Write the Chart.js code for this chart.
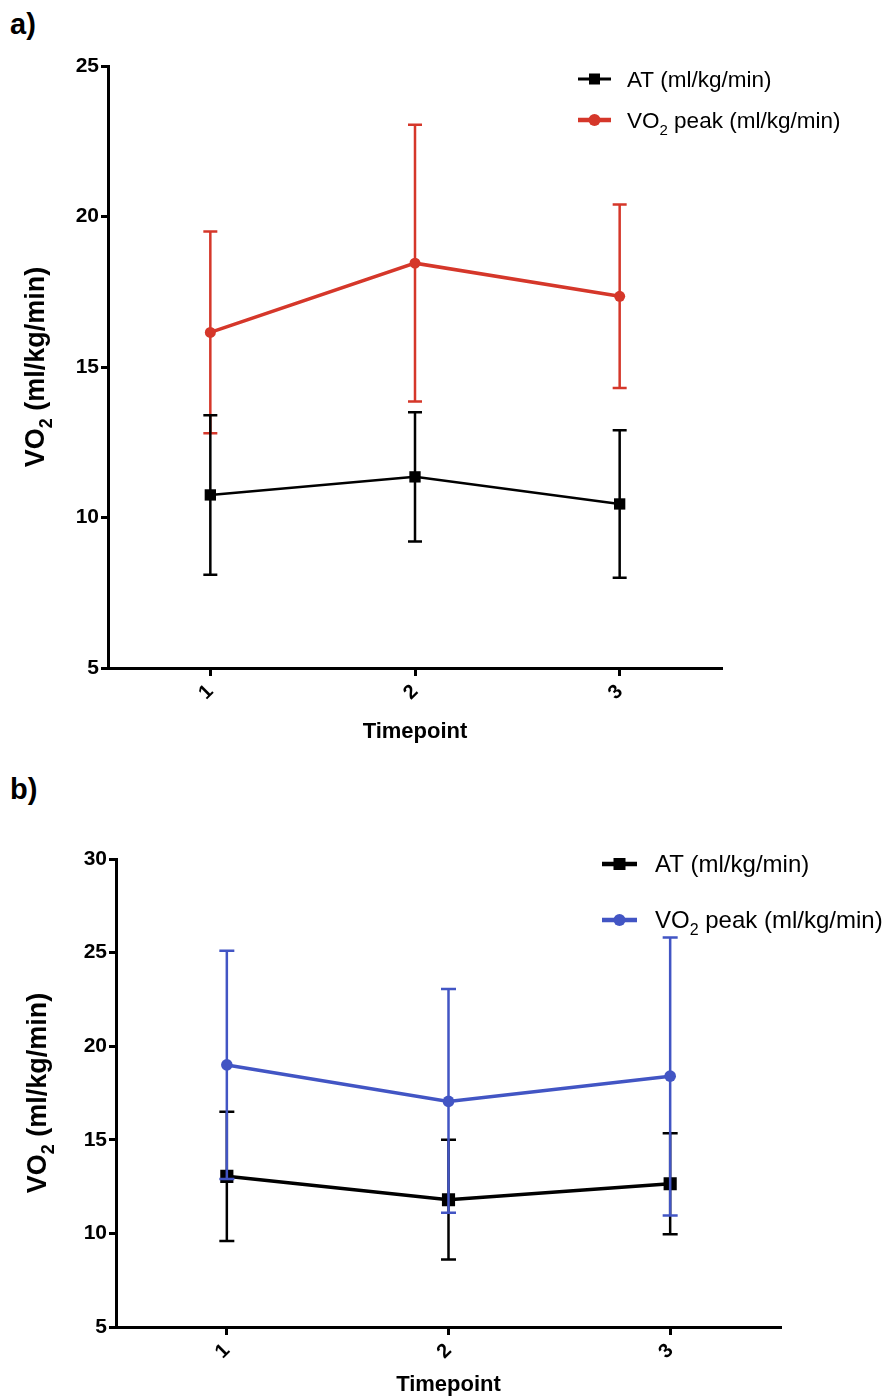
<!DOCTYPE html>
<html>
<head>
<meta charset="utf-8">
<script src="https://cdn.jsdelivr.net/npm/chart.js@4.4.1/dist/chart.umd.min.js"></script>
<style>
  html, body { margin: 0; padding: 0; background: #ffffff; }
  body { width: 892px; height: 1398px; position: relative; overflow: hidden; font-family: 'Liberation Sans', Arial, sans-serif; }
  .panel-label { position: absolute; left: 10px; font-weight: bold; font-size: 29px; color: #000; line-height: 1; }
  .wrap { position: absolute; left: 0; width: 892px; }
</style>
</head>
<body>
<div class="panel-label" style="top:10px;">a)</div>
<div class="panel-label" style="top:775px;">b)</div>
<div class="wrap" style="top:0px;height:760px;"><canvas id="chartA" width="892" height="760"></canvas></div>
<div class="wrap" style="top:760px;height:638px;"><canvas id="chartB" width="892" height="638"></canvas></div>
<script>
// ---------- DATA ----------
const categories = ['1', '2', '3'];
const seriesNames = ['AT (ml/kg/min)', 'VO₂ peak (ml/kg/min)'];
const yAxisTitle = 'VO₂ (ml/kg/min)';
const xAxisTitle = 'Timepoint';

// Panel a
const atA = [10.75, 11.35, 10.45];
const atAUpper = [13.4, 13.5, 12.9];
const atALower = [8.1, 9.2, 8.0];
const vo2A = [16.15, 18.45, 17.35];
const vo2AUpper = [19.5, 23.05, 20.4];
const vo2ALower = [12.8, 13.85, 14.3];
const yTicksA = [5, 10, 15, 20, 25];

// Panel b
const atB = [13.05, 11.8, 12.65];
const atBUpper = [16.5, 15.0, 15.35];
const atBLower = [9.6, 8.6, 9.95];
const vo2B = [19.0, 17.05, 18.4];
const vo2BUpper = [25.1, 23.05, 25.8];
const vo2BLower = [12.9, 11.1, 10.95];
const yTicksB = [5, 10, 15, 20, 25, 30];

// ---------- HELPERS ----------
const FAM = "'Liberation Sans', Arial, Helvetica, sans-serif";
const RED = '#D5372A';
const BLUE = '#4255C4';

function richParts(text) {
  const parts = []; let buf = '';
  for (const ch of text) {
    if (ch === '₂') { if (buf) parts.push({ t: buf, sub: false }); parts.push({ t: '2', sub: true }); buf = ''; }
    else buf += ch;
  }
  if (buf) parts.push({ t: buf, sub: false });
  return parts;
}
function drawRich(ctx, text, x, y, size, weight, align) {
  const parts = richParts(text);
  const f = p => `${weight} ${p.sub ? Math.round(size * 0.68) : size}px ${FAM}`;
  let w = 0;
  parts.forEach(p => { ctx.font = f(p); p.w = ctx.measureText(p.t).width; w += p.w; });
  let cx = align === 'center' ? x - w / 2 : x;
  ctx.textAlign = 'left';
  ctx.textBaseline = 'alphabetic';
  parts.forEach(p => { ctx.font = f(p); ctx.fillText(p.t, cx, y + (p.sub ? size * 0.3 : 0)); cx += p.w; });
}

const errorBars = {
  id: 'errorBars',
  beforeDatasetDraw(chart, args) {
    const ds = chart.data.datasets[args.index];
    if (!ds.errUpper) return;
    const yS = chart.scales.y;
    const ctx = chart.ctx;
    const cap = ds.errCap || 7;
    ctx.save();
    ctx.strokeStyle = ds.borderColor;
    ctx.lineWidth = ds.errWidth || 2.5;
    args.meta.data.forEach((pt, i) => {
      const x = pt.x;
      const yu = yS.getPixelForValue(ds.errUpper[i]);
      const yl = yS.getPixelForValue(ds.errLower[i]);
      ctx.beginPath();
      ctx.moveTo(x, yu); ctx.lineTo(x, yl);
      ctx.moveTo(x - cap, yu); ctx.lineTo(x + cap, yu);
      ctx.moveTo(x - cap, yl); ctx.lineTo(x + cap, yl);
      ctx.stroke();
    });
    ctx.restore();
  }
};

const decor = {
  id: 'decor',
  afterDraw(chart, args, opts) {
    const ctx = chart.ctx;
    const ca = chart.chartArea;
    ctx.save();
    ctx.fillStyle = '#000';
    // y title
    ctx.save();
    ctx.translate(opts.yTitleX, (ca.top + ca.bottom) / 2);
    ctx.rotate(-Math.PI / 2);
    drawRich(ctx, yAxisTitle, 0, 0, opts.yTitleSize, 'bold', 'center');
    ctx.restore();
    // x title
    drawRich(ctx, xAxisTitle, (ca.left + ca.right) / 2, opts.xTitleY, opts.xTitleSize, 'bold', 'center');
    // legend
    const L = opts.legend;
    chart.data.datasets.slice().sort((a, b) => a.legendIndex - b.legendIndex).forEach((ds, i) => {
      const ly = L.y0 + i * L.dy;
      ctx.save();
      ctx.strokeStyle = ds.borderColor;
      ctx.lineWidth = ds.legendLineWidth;
      ctx.beginPath();
      ctx.moveTo(L.x0, ly); ctx.lineTo(L.x1, ly);
      ctx.stroke();
      ctx.fillStyle = ds.borderColor;
      const mx = (L.x0 + L.x1) / 2;
      if (ds.pointStyle === 'rect') {
        const s = ds.legendMarker;
        ctx.fillRect(mx - s / 2, ly - s / 2, s, s);
      } else {
        ctx.beginPath(); ctx.arc(mx, ly, ds.legendMarker / 2, 0, Math.PI * 2); ctx.fill();
      }
      ctx.restore();
      ctx.fillStyle = '#000';
      drawRich(ctx, ds.label, L.textX, ly + L.baseOff, L.size, 'normal', 'left');
    });
    ctx.restore();
  }
};

function makeScales(yMin, yMax, yTicks, yWidth, xHeight, tickSize) {
  return {
    x: {
      type: 'category',
      offset: true,
      grid: { display: true, drawOnChartArea: false, drawTicks: true, tickLength: 8, tickWidth: 3, tickColor: '#000', offset: false },
      border: { display: true, color: '#000', width: 3 },
      ticks: { color: '#000', font: { family: FAM, size: 20, weight: 'bold' }, minRotation: 45, maxRotation: 45, padding: 4 },
      afterFit(scale) { scale.height = xHeight; }
    },
    y: {
      min: yMin, max: yMax,
      afterBuildTicks(scale) { scale.ticks = yTicks.map(v => ({ value: v })); },
      grid: { display: true, drawOnChartArea: false, drawTicks: true, tickLength: 7, tickWidth: 3, tickColor: '#000' },
      border: { display: true, color: '#000', width: 3 },
      ticks: { color: '#000', font: { family: FAM, size: tickSize, weight: 'bold' }, padding: 2 },
      afterFit(scale) { scale.width = yWidth; }
    }
  };
}

Chart.register(errorBars, decor);

// ---------- PANEL A ----------
new Chart(document.getElementById('chartA'), {
  type: 'line',
  data: {
    labels: categories,
    datasets: [
      {
        label: seriesNames[0], data: atA, errUpper: atAUpper, errLower: atALower,
        borderColor: '#000', backgroundColor: '#000', borderWidth: 2.5,
        pointStyle: 'rect', pointRadius: 8, pointHoverRadius: 8, pointBorderWidth: 0,
        errWidth: 2.5, errCap: 7, order: 0, legendIndex: 0, legendLineWidth: 3, legendMarker: 11, tension: 0
      },
      {
        label: seriesNames[1], data: vo2A, errUpper: vo2AUpper, errLower: vo2ALower,
        borderColor: RED, backgroundColor: RED, borderWidth: 3.5,
        pointStyle: 'circle', pointRadius: 5.5, pointHoverRadius: 5.5, pointBorderWidth: 0,
        errWidth: 2.5, errCap: 7, order: 1, legendIndex: 1, legendLineWidth: 4.5, legendMarker: 12, tension: 0
      }
    ]
  },
  options: {
    responsive: false, animation: false, devicePixelRatio: 1,
    layout: { padding: { left: 0, right: 170, top: 66, bottom: 0 } },
    scales: makeScales(5, 25, yTicksA, 108, 92, 21),
    plugins: {
      legend: { display: false }, tooltip: { enabled: false },
      decor: {
        yTitleX: 44, yTitleSize: 27, xTitleY: 738, xTitleSize: 22,
        legend: { x0: 578, x1: 611, y0: 79, dy: 41, textX: 627, baseOff: 8, size: 22.5 }
      }
    }
  }
});

// ---------- PANEL B ----------
new Chart(document.getElementById('chartB'), {
  type: 'line',
  data: {
    labels: categories,
    datasets: [
      {
        label: seriesNames[1], data: vo2B, errUpper: vo2BUpper, errLower: vo2BLower,
        borderColor: BLUE, backgroundColor: BLUE, borderWidth: 3.5,
        pointStyle: 'circle', pointRadius: 5.8, pointHoverRadius: 5.8, pointBorderWidth: 0,
        errWidth: 2.5, errCap: 7.5, order: 0, legendIndex: 1, legendLineWidth: 4.5, legendMarker: 12, tension: 0
      },
      {
        label: seriesNames[0], data: atB, errUpper: atBUpper, errLower: atBLower,
        borderColor: '#000', backgroundColor: '#000', borderWidth: 3.5,
        pointStyle: 'rect', pointRadius: 9.3, pointHoverRadius: 9.3, pointBorderWidth: 0,
        errWidth: 2.5, errCap: 7.5, order: 1, legendIndex: 0, legendLineWidth: 4.5, legendMarker: 12, tension: 0
      }
    ]
  },
  options: {
    responsive: false, animation: false, devicePixelRatio: 1,
    layout: { padding: { left: 0, right: 111, top: 99, bottom: 0 } },
    scales: makeScales(5, 30, yTicksB, 116, 71, 21),
    plugins: {
      legend: { display: false }, tooltip: { enabled: false },
      decor: {
        yTitleX: 46, yTitleSize: 27, xTitleY: 631, xTitleSize: 22,
        legend: { x0: 602, x1: 637, y0: 104, dy: 56, textX: 655, baseOff: 8, size: 24 }
      }
    }
  }
});
</script>
</body>
</html>
